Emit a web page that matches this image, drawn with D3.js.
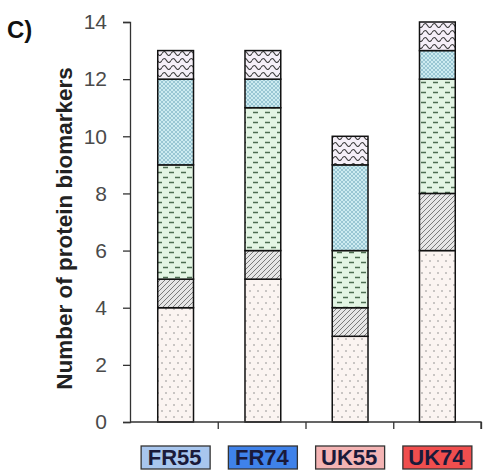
<!DOCTYPE html>
<html><head><meta charset="utf-8">
<script src="https://cdn.jsdelivr.net/npm/d3@7"></script>
<style>body{margin:0;background:#fff}svg{display:block}</style>
</head><body>
<script>
const categories = ["FR55", "FR74", "UK55", "UK74"];
const seriesNames = ["dots", "hatch", "dashes", "cross", "waves"];
const dotsVals   = [4, 5, 3, 6];
const hatchVals  = [1, 1, 1, 2];
const dashVals   = [4, 5, 2, 4];
const crossVals  = [3, 1, 3, 1];
const waveVals   = [1, 1, 1, 1];
const yTicks = [0, 2, 4, 6, 8, 10, 12, 14];
const legendColors = ["#a8c6ee", "#3f82ea", "#f4b4b4", "#f04e4e"];

const W = 493, H = 476;
const FONT = "Arial, 'Liberation Sans', sans-serif";
const svg = d3.select("body").append("svg").attr("width", W).attr("height", H);
const defs = svg.append("defs");

function pat(id, w, h, bg) {
  const p = defs.append("pattern").attr("id", id).attr("patternUnits", "userSpaceOnUse")
    .attr("width", w).attr("height", h);
  p.append("rect").attr("width", w).attr("height", h).attr("fill", bg);
  return p;
}
let p = pat("p-dots", 8, 12, "#fbf4f1");
p.append("circle").attr("cx", 2).attr("cy", 3).attr("r", 0.8).attr("fill", "#8a8a8a");
p.append("circle").attr("cx", 6).attr("cy", 9).attr("r", 0.8).attr("fill", "#8a8a8a");

p = pat("p-hatch", 5, 5, "#e6e6e6");
p.append("path").attr("d", "M-1,6 L6,-1 M-1,1 L1,-1 M4,6 L6,4").attr("stroke", "#7a7a7a").attr("stroke-width", 1);

p = pat("p-dashes", 12, 10, "#e3f5e4");
p.append("path").attr("d", "M1,2.5 H6 M7,7.5 H12").attr("stroke", "#4d6d52").attr("stroke-width", 1.4);

p = pat("p-cross", 4, 4, "#cdebf0");
p.append("path").attr("d", "M0,0 L4,4 M4,0 L0,4").attr("stroke", "#8cbccc").attr("stroke-width", 0.8);

p = pat("p-waves", 9, 7, "#f5eff8");
p.append("path").attr("d", "M0,4.5 Q2.25,0.5 4.5,4.5 T9,4.5").attr("fill", "none").attr("stroke", "#3a3a3a").attr("stroke-width", 1.1);

const fills = {dots: "url(#p-dots)", hatch: "url(#p-hatch)", dashes: "url(#p-dashes)", cross: "url(#p-cross)", waves: "url(#p-waves)"};

const x = d3.scaleBand().domain(categories).range([132, 481]).paddingInner(0.59).paddingOuter(0.295);
const y = d3.scaleLinear().domain([0, 14]).range([422, 22]);

const table = categories.map((c, i) => ({cat: c, dots: dotsVals[i], hatch: hatchVals[i], dashes: dashVals[i], cross: crossVals[i], waves: waveVals[i]}));
const stacked = d3.stack().keys(seriesNames)(table);

const g = svg.append("g");
stacked.forEach(s => {
  g.selectAll(null).data(s).enter().append("rect")
    .attr("x", d => x(d.data.cat))
    .attr("width", x.bandwidth())
    .attr("y", d => y(d[1]))
    .attr("height", d => y(d[0]) - y(d[1]))
    .attr("fill", fills[s.key])
    .attr("stroke", "#111").attr("stroke-width", 1.5);
});

// y axis
const yAxis = d3.axisLeft(y).tickValues(yTicks).tickSize(7).tickPadding(16);
const ya = svg.append("g").attr("transform", "translate(130,0)").call(yAxis);
ya.select(".domain").attr("stroke", "#333").attr("stroke-width", 1.3);
ya.selectAll(".tick line").attr("stroke", "#333").attr("stroke-width", 1.3);
ya.selectAll(".tick text").attr("font-family", FONT)
  .attr("font-size", 21).attr("fill", "#4a4a4a");

// x axis (ticks at band boundaries)
const xb = d3.scaleLinear().domain([0, 4]).range([130, 481]);
const xa = svg.append("g").attr("transform", "translate(0,422)").call(
  d3.axisBottom(xb).tickValues([1, 2, 3, 4]).tickSize(7).tickFormat(""));
xa.select(".domain").attr("stroke", "#333").attr("stroke-width", 1.3).attr("d", "M130,0H481V7");
xa.selectAll(".tick line").attr("stroke", "#333").attr("stroke-width", 1.3);

// legend boxes
const lg = svg.append("g");
categories.forEach((c, i) => {
  const cx = x(c) + x.bandwidth() / 2;
  lg.append("rect").attr("x", cx - 34.5).attr("y", 446).attr("width", 69).attr("height", 23)
    .attr("fill", legendColors[i]).attr("stroke", "#333").attr("stroke-width", 1.3);
  lg.append("text").attr("x", cx - 1).attr("y", 465).attr("text-anchor", "middle")
    .attr("font-family", FONT).attr("font-weight", "bold")
    .attr("font-size", 22).attr("fill", "#1a1a3a").text(c);
});

// y label
svg.append("text").attr("transform", "translate(72,228.5) rotate(-90)").attr("text-anchor", "middle")
  .attr("font-family", FONT).attr("font-weight", "bold")
  .attr("font-size", 22.5).attr("fill", "#222").text("Number of protein biomarkers");

// panel label
svg.append("text").attr("x", 7).attr("y", 38)
  .attr("font-family", FONT).attr("font-weight", "bold")
  .attr("font-size", 24).attr("fill", "#111").text("C)");
</script>
</body></html>
